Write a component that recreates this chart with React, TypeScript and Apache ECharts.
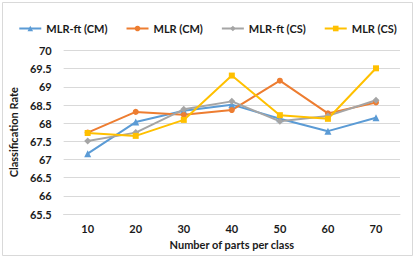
import React, { useEffect, useRef } from "react";
import * as echarts from "echarts";

const categories = ["10", "20", "30", "40", "50", "60", "70"];
const mlrFtCM = [67.16, 68.03, 68.34, 68.51, 68.12, 67.78, 68.15];
const mlrCM = [67.74, 68.31, 68.23, 68.36, 69.17, 68.27, 68.57];
const mlrFtCS = [67.51, 67.74, 68.38, 68.6, 68.05, 68.2, 68.63];
const mlrCS = [67.73, 67.65, 68.09, 69.31, 68.22, 68.12, 69.51];

const FONT = "Lato";
const TXT = "#1a1a1a";

export default function App() {
  const ref = useRef<HTMLDivElement>(null);
  useEffect(() => {
    if (!ref.current) return;
    const chart = echarts.init(ref.current, undefined, { renderer: "svg" });
    const mk = (name: string, data: number[], color: string, symbol: string, size: number) => ({
      name,
      type: "line",
      data,
      symbol,
      symbolSize: size,
      showSymbol: true,
      lineStyle: { color, width: 2 },
      itemStyle: { color },
    });
    chart.setOption({
      animation: false,
      graphic: [
        {
          type: "rect",
          shape: { x: 2.5, y: 2.5, width: 410, height: 253 },
          style: { fill: "#fff", stroke: "#d9d9d9", lineWidth: 1 },
          z: -10,
        },
      ],
      legend: {
        top: 18,
        left: "center",
        itemWidth: 22,
        itemHeight: 7,
        itemGap: 18,
        textStyle: { fontFamily: FONT, fontWeight: "bold", fontSize: 11, color: TXT },
      },
      grid: { left: 62, right: 15, top: 50.5, bottom: 45 },
      xAxis: {
        type: "category",
        data: categories,
        boundaryGap: true,
        axisLine: { show: true, lineStyle: { color: "#d9d9d9" } },
        axisTick: { show: false },
        axisLabel: { fontFamily: FONT, fontWeight: "bold", fontSize: 11, color: TXT, margin: 9 },
        name: "Number of parts per class",
        nameLocation: "middle",
        nameGap: 21,
        nameTextStyle: { fontFamily: FONT, fontWeight: "bold", fontSize: 11, color: TXT },
      },
      yAxis: {
        type: "value",
        min: 65.5,
        max: 70,
        interval: 0.5,
        axisLine: { show: false },
        axisTick: { show: false },
        splitLine: { lineStyle: { color: "#d9d9d9" } },
        axisLabel: { fontFamily: FONT, fontWeight: "bold", fontSize: 11, color: TXT, margin: 12 },
        name: "Classification Rate",
        nameLocation: "middle",
        nameGap: 35,
        nameTextStyle: { fontFamily: FONT, fontWeight: "bold", fontSize: 11, color: TXT },
      },
      series: [
        mk("MLR-ft (CM)", mlrFtCM, "#5B9BD5", "triangle", 7),
        mk("MLR (CM)", mlrCM, "#ED7D31", "circle", 6),
        mk("MLR-ft (CS)", mlrFtCS, "#A5A5A5", "diamond", 7),
        mk("MLR (CS)", mlrCS, "#FFC000", "rect", 6),
      ],
    });
    return () => chart.dispose();
  }, []);
  return (
    <div
      ref={ref}
      style={{ position: "fixed", left: 0, top: 0, width: 415, height: 259, background: "#fff" }}
    />
  );
}
